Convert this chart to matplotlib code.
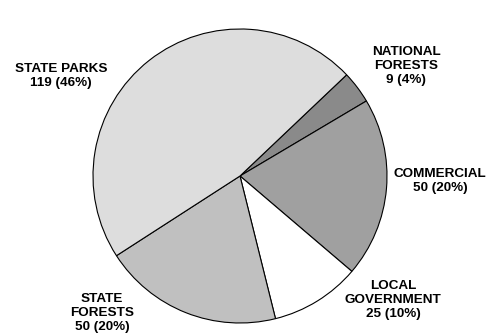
import matplotlib
matplotlib.use("Agg")
import matplotlib.pyplot as plt

# Ownership categories, clockwise from the top-right
categories = ["NATIONAL\nFORESTS", "COMMERCIAL", "LOCAL\nGOVERNMENT", "STATE\nFORESTS", "STATE PARKS"]
counts = [9, 50, 25, 50, 119]
percents = [4, 20, 10, 20, 46]
colors = ["#8a8a8a", "#a0a0a0", "#ffffff", "#c0c0c0", "#dddddd"]

W, H = 494, 335
fig = plt.figure(figsize=(W / 100, H / 100), dpi=100)
ax = fig.add_axes([0, 0, 1, 1])

ax.pie(counts, colors=colors, startangle=43.5, counterclock=False,
       radius=1, center=(0, 0),
       wedgeprops=dict(edgecolor="black", linewidth=0.8))

# pie centre and radius in pixels; limits set after pie() so they stick
cx, cy, r = 240, 176, 147
ax.set_xlim(-cx / r, (W - cx) / r)
ax.set_ylim(-(H - cy) / r, cy / r)
ax.set_aspect("equal")
ax.axis("off")

# label anchor positions (pixels from top-left)
label_pos = [(406, 66), (440, 181), (393, 300), (102, 313), (61, 76)]
for name, n, p, (x, y) in zip(categories, counts, percents, label_pos):
    fig.text(x / W, 1 - y / H, f"{name}\n{n} ({p}%)",
             ha="center", va="center", fontsize=9.7, fontweight="bold",
             family="Liberation Sans", linespacing=1.17)

fig.savefig("out.png", dpi=100)
